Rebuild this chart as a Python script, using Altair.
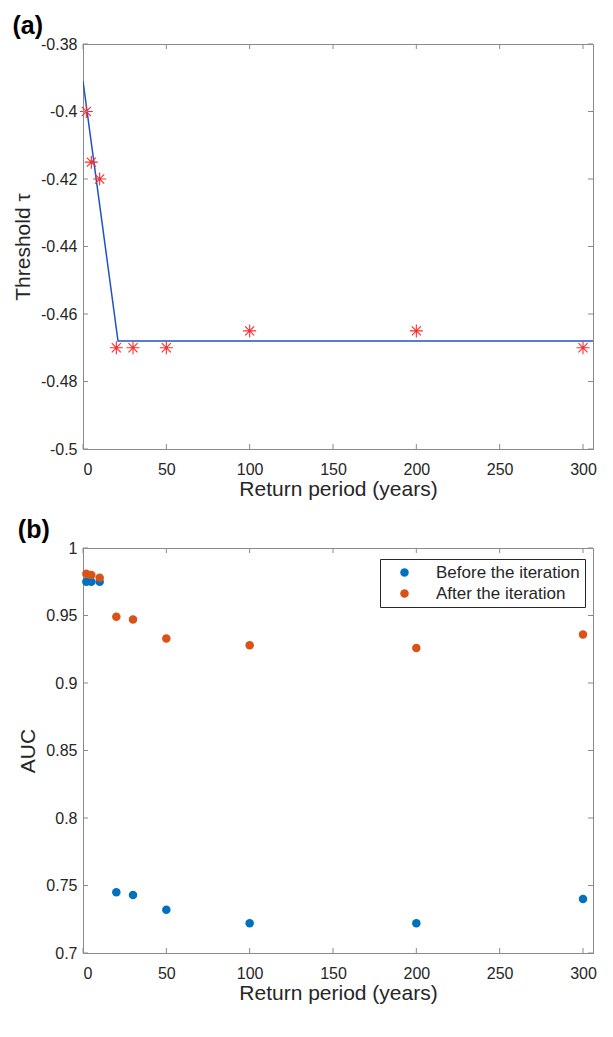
import altair as alt
import pandas as pd

# ---- data ----
return_period = [2, 5, 10, 20, 30, 50, 100, 200, 300]
threshold_tau = [-0.400, -0.415, -0.420, -0.470, -0.470, -0.470, -0.465, -0.465, -0.470]
fit_x = [0, 21, 310]
fit_y = [-0.391, -0.468, -0.468]
auc_before = [0.975, 0.975, 0.975, 0.745, 0.743, 0.732, 0.722, 0.722, 0.740]
auc_after = [0.981, 0.980, 0.978, 0.949, 0.947, 0.933, 0.928, 0.926, 0.936]
series_names = ["Before the iteration", "After the iteration"]
series_colors = ["#0072BD", "#D95319"]
x_ticks = [0, 50, 100, 150, 200, 250, 300]
ya_ticks = [-0.5, -0.48, -0.46, -0.44, -0.42, -0.4, -0.38]
yb_ticks = [0.7, 0.75, 0.8, 0.85, 0.9, 0.95, 1.0]

W, H = 510, 405
GRAY = "#8a8a8a"
TXT = "#262626"
FONT = "Liberation Sans"
TL = 5  # inward tick length

xscale = alt.Scale(domain=[0, 306], nice=False, zero=False)
ya_scale = alt.Scale(domain=[-0.5, -0.38], nice=False, zero=False)
yb_scale = alt.Scale(domain=[0.7, 1.0], nice=False, zero=False)

LBL = "'' + datum.value"
xaxis_a = alt.Axis(values=x_ticks, title="Return period (years)", labelExpr=LBL)
xaxis_b = alt.Axis(values=x_ticks, title="Return period (years)", labelExpr=LBL)
ya_axis = alt.Axis(values=ya_ticks, title="Threshold τ", labelExpr=LBL)
yb_axis = alt.Axis(values=yb_ticks, title="AUC", labelExpr=LBL)


def tick_layers(yfield, yvals, yscale, xaxis, yaxis):
    dx = pd.DataFrame({"rp": x_ticks})
    dy = pd.DataFrame({yfield: yvals})
    X = alt.X("rp:Q", scale=xscale, axis=xaxis)
    Y = alt.Y(f"{yfield}:Q", scale=yscale, axis=yaxis)
    bot = alt.Chart(dx).mark_rule(color=GRAY).encode(
        x=X, y=alt.value(H), y2=alt.value(H - TL))
    top = alt.Chart(dx).mark_rule(color=GRAY).encode(
        x=X, y=alt.value(0), y2=alt.value(TL))
    left = alt.Chart(dy).mark_rule(color=GRAY).encode(
        y=Y, x=alt.value(0), x2=alt.value(TL))
    right = alt.Chart(dy).mark_rule(color=GRAY).encode(
        y=Y, x=alt.value(W), x2=alt.value(W - TL))
    return [bot, top, left, right]


# ---- panel (a) ----
df_a = pd.DataFrame({"rp": return_period, "tau": threshold_tau})
df_fit = pd.DataFrame({"rp": fit_x, "tau": fit_y})

star = "M-1,0L1,0M0,-1L0,1M-0.7,-0.7L0.7,0.7M-0.7,0.7L0.7,-0.7"

fit_line = alt.Chart(df_fit).mark_line(color="#2152C4", strokeWidth=1.5, clip=True).encode(
    x=alt.X("rp:Q", scale=xscale, axis=xaxis_a),
    y=alt.Y("tau:Q", scale=ya_scale, axis=ya_axis),
)
stars = alt.Chart(df_a).mark_point(shape=star, filled=False, color="#FF2A2A",
                                   size=169, strokeWidth=1.1, opacity=1).encode(
    x=alt.X("rp:Q", scale=xscale, axis=xaxis_a),
    y=alt.Y("tau:Q", scale=ya_scale, axis=ya_axis),
)
panel_a = alt.layer(fit_line, stars,
                    *tick_layers("tau", ya_ticks, ya_scale, xaxis_a, ya_axis)).properties(
    width=W, height=H, title="(a)")

# ---- panel (b) ----
rows = []
for name, vals in zip(series_names, [auc_before, auc_after]):
    for r, v in zip(return_period, vals):
        rows.append({"rp": r, "auc": v, "series": name})
df_b = pd.DataFrame(rows)

pts = alt.Chart(df_b).mark_circle(size=72, opacity=1).encode(
    x=alt.X("rp:Q", scale=xscale, axis=xaxis_b),
    y=alt.Y("auc:Q", scale=yb_scale, axis=yb_axis),
    color=alt.Color("series:N", sort=series_names,
                    scale=alt.Scale(domain=series_names, range=series_colors),
                    legend=alt.Legend(title=None, orient="none", legendX=297, legendY=11,
                                      strokeColor=TXT, fillColor="white",
                                      padding=5, symbolOffset=11, labelOffset=23,
                                      symbolType="circle", symbolSize=72,
                                      labelFontSize=17, labelFont=FONT,
                                      labelColor=TXT, rowPadding=3)),
)
panel_b = alt.layer(pts, *tick_layers("auc", yb_ticks, yb_scale, xaxis_b, yb_axis)).properties(
    width=W, height=H, title="(b)")

chart = alt.vconcat(panel_a, panel_b, spacing=17).resolve_scale(
    color="independent"
).resolve_legend(color="independent").properties(
    padding={"left": 4, "top": 5, "right": 0, "bottom": 0}
).configure_view(stroke=GRAY, strokeWidth=1).configure_axis(
    grid=False, ticks=False, tickSize=0, domainColor=GRAY, domainWidth=1,
    labelFont=FONT, labelFontSize=16, labelColor=TXT,
    titleFont=FONT, titleFontSize=21, titleFontWeight="normal", titleColor=TXT,
).configure_axisX(labelPadding=12, titlePadding=1).configure_axisY(
    labelPadding=6, titlePadding=7
).configure_title(
    font=FONT, fontSize=25, fontWeight="bold", color="black", anchor="start",
    offset=-3,
)

chart.save("out.html", embed_options={"renderer": "svg", "actions": False})
